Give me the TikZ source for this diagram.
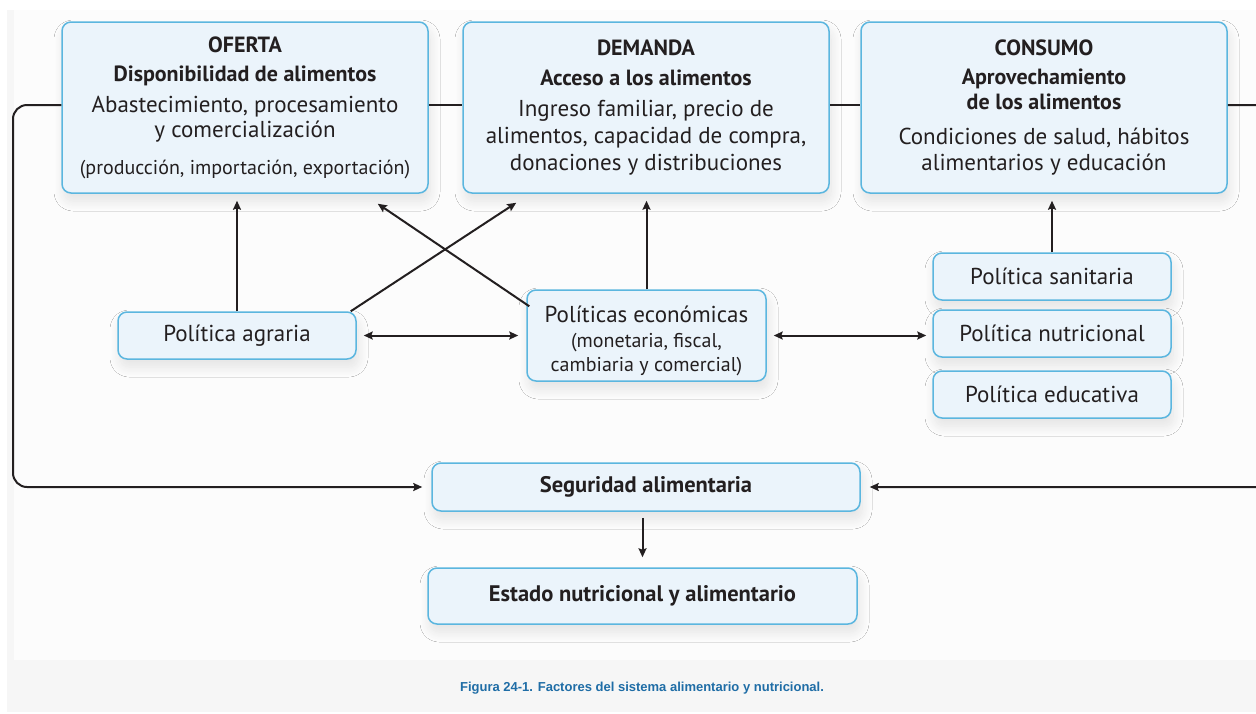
\documentclass[tikz,border=0pt]{standalone}
\usepackage{fontspec}
\setmainfont{PT Sans}
\newfontfamily\capfont{Liberation Sans}
\usetikzlibrary{arrows.meta,shadows.blur,calc}
\definecolor{boxfill}{HTML}{EBF4FB}
\definecolor{boxline}{HTML}{5BB6DF}
\definecolor{txt}{HTML}{231F20}
\definecolor{capblue}{HTML}{1F6DA6}
\definecolor{panel}{HTML}{FCFCFC}
\definecolor{band}{HTML}{F6F6F6}
\tikzset{
  box/.style={draw=boxline, line width=1.5pt, fill=boxfill, rounded corners=9pt,
    align=center, text=txt, inner sep=0pt,
    font=\fontsize{23}{25}\selectfont,
    blur shadow={shadow xshift=2pt, shadow yshift=-8pt, shadow blur radius=10pt,
      shadow blur steps=16, shadow opacity=10}},
  tip/.tip={Stealth[length=9pt,width=8pt,inset=1.5pt]},
  conn/.style={draw=txt, line width=2pt, -tip},
  biarrow/.style={draw=txt, line width=2pt, tip-tip},
  plain/.style={draw=txt, line width=2pt},
}
\newcommand{\hd}[1]{{\fontsize{22}{25}\selectfont\bfseries #1}}
\newcommand{\sm}[1]{{\fontsize{20}{25}\selectfont #1}}
\begin{document}
\begin{tikzpicture}[x=1pt,y=-1pt]
\useasboundingbox (0,0) rectangle (1256,713);
\fill[white] (0,0) rectangle (1256,713);
\fill[band] (7,10) rectangle (1256,712);
\fill[panel] (14,10) rectangle (1256,660);

% top boxes
\node[box, minimum width=366pt, minimum height=171pt] (of) at (245,107.5)
 {\hd{OFERTA}\\[4pt]\hd{Disponibilidad de alimentos}\\[6pt]
  Abastecimiento, procesamiento\\y comercialización\\[12pt]
  \sm{(producción, importación, exportación)}};
\node[box, minimum width=366pt, minimum height=171pt] (dem) at (646,107.5)
 {\hd{DEMANDA}\\[5pt]\hd{Acceso a los alimentos}\\[6pt]
  Ingreso familiar, precio de\\[2pt]alimentos, capacidad de compra,\\[2pt]donaciones y distribuciones};
\node[box, minimum width=366pt, minimum height=171pt] (con) at (1044,107.5)
 {\hd{CONSUMO}\\[4pt]\hd{Aprovechamiento}\\\hd{de los alimentos}\\[10pt]
  Condiciones de salud, hábitos\\[1pt]alimentarios y educación};

% policies
\node[box, minimum width=238pt, minimum height=47pt] (agr) at (237,335.5) {Política agraria};
\node[box, minimum width=239pt, minimum height=91pt] (eco) at (646.5,335.5)
 {\rule{0pt}{27pt}Políticas económicas\\[0pt]\sm{(monetaria, fiscal,}\\[-1pt]\sm{cambiaria y comercial)}};
\node[box, minimum width=238pt, minimum height=47pt] (san) at (1052,276.5) {Política sanitaria};
\node[box, minimum width=238pt, minimum height=47pt] (nut) at (1052,333.5) {Política nutricional};
\node[box, minimum width=238pt, minimum height=47pt] (edu) at (1052,394.5) {Política educativa};

% bottom
\node[box, minimum width=428pt, minimum height=48pt] (seg) at (646,487)
 {\fontsize{22.5}{25}\selectfont\bfseries Seguridad alimentaria};
\node[box, minimum width=429pt, minimum height=56pt] (est) at (642.5,596)
 {\fontsize{22.5}{25}\selectfont\bfseries Estado nutricional y alimentario};

% connectors along the top
\coordinate (top) at (0,105);
\draw[plain] (of.east |- top) -- (dem.west |- top);
\draw[plain] (dem.east |- top) -- (con.west |- top);
\coordinate (lc1) at (13,105);
\coordinate (lc2) at (13,487);
\coordinate (rc1) at (1275,105);
\coordinate (rc2) at (1275,487);
\draw[conn, rounded corners=14pt, shorten >=9pt] (of.west |- top) -- (lc1) -- (lc2) -- (seg.west);
\draw[conn, rounded corners=14pt, shorten >=9pt] (con.east |- top) -- (rc1) -- (rc2) -- (seg.east);

% arrows up
\draw[conn, shorten >=7pt] (agr.north) -- (agr.north |- of.south);
\draw[conn, shorten >=7pt] (eco.north) -- (eco.north |- dem.south);
\draw[conn, shorten >=7pt] (san.north) -- (san.north |- con.south);
\draw[conn] ($(agr.north east)+(-6,0)$) -- ($(dem.south west)+(54,9)$);
\draw[conn] ($(eco.north west)+(3,17)$) -- ($(of.south east)+(-51,10)$);

% horizontal double arrows
\draw[biarrow, shorten <=7pt, shorten >=8pt] (agr.east) -- (agr.east -| eco.west);
\draw[biarrow, shorten <=7pt, shorten >=6pt] (eco.east) -- (eco.east -| nut.west);

% down
\draw[conn, shorten <=6pt, shorten >=10pt] (seg.south -| est.north) -- (est.north);

% caption
\node[text=capblue, font=\capfont\fontsize{13}{15}\selectfont\bfseries] (cap) at (642,688)
 {Figura 24-1. Factores del sistema alimentario y nutricional.};
\end{tikzpicture}
\end{document}
